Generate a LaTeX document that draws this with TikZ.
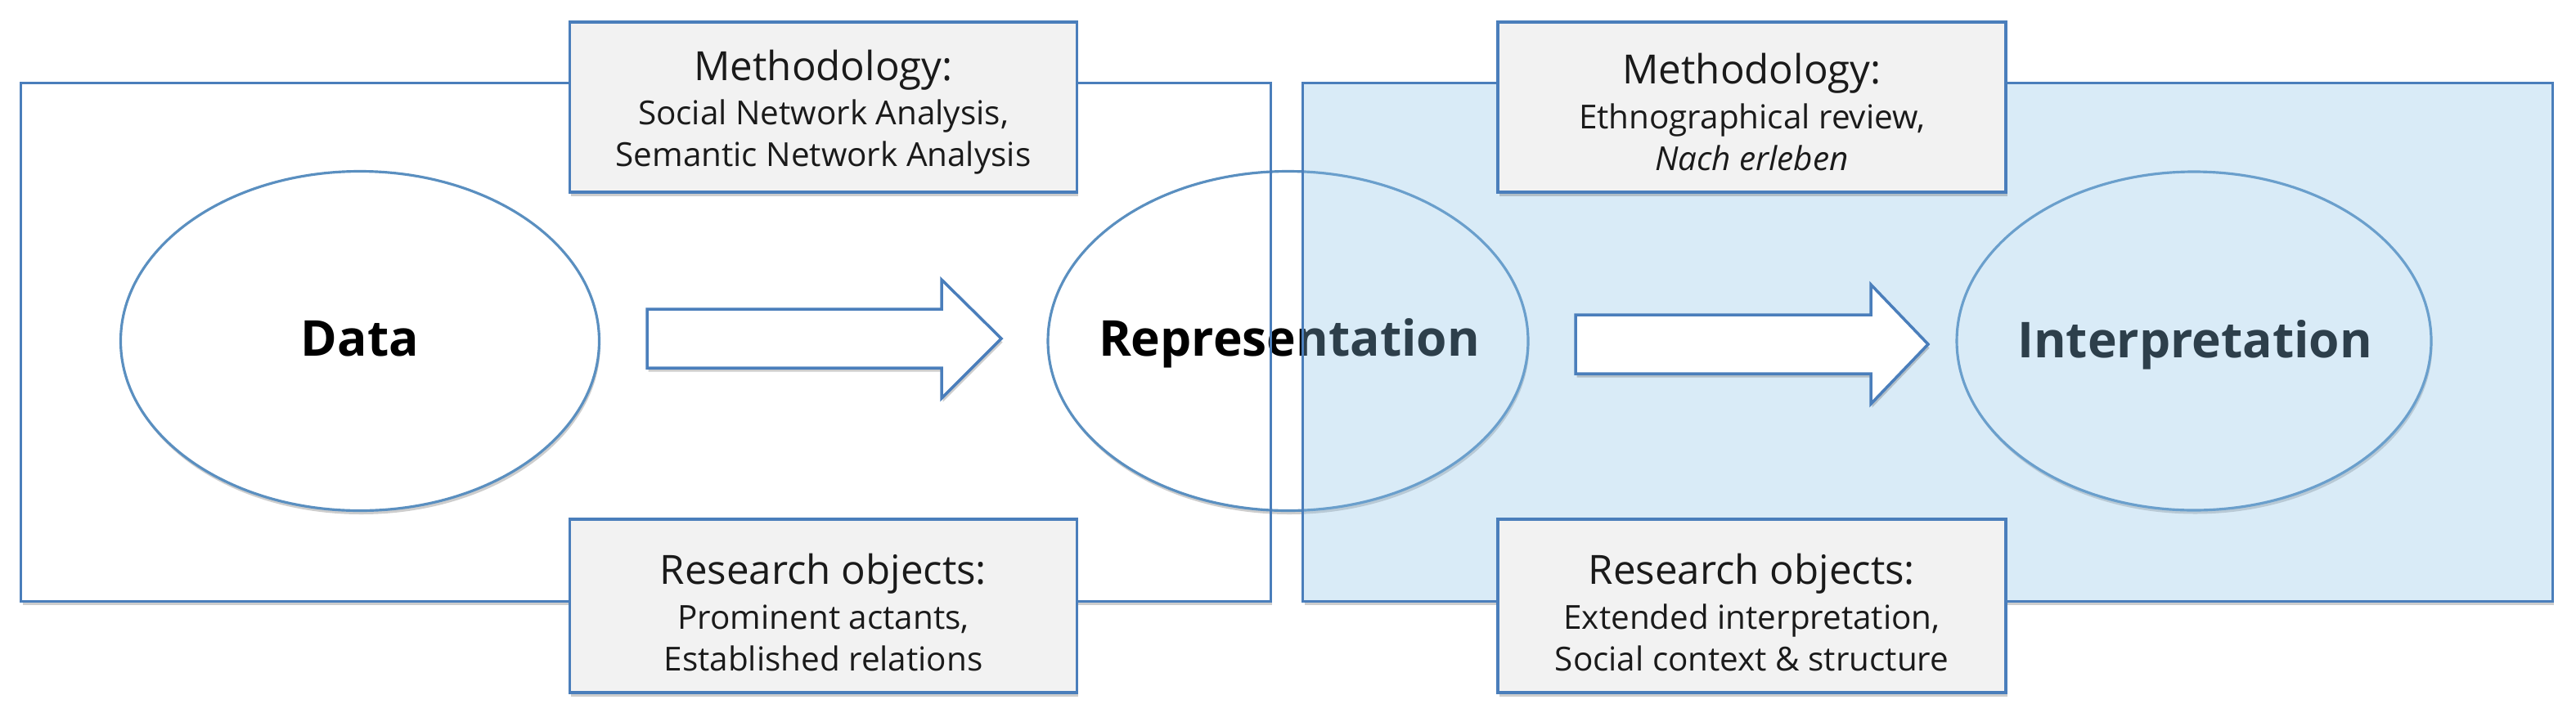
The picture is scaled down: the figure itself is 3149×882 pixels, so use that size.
\documentclass[tikz,border=0pt]{standalone}
\usepackage{fontspec}
\setmainfont{Open Sans}
\usetikzlibrary{shapes.geometric,shadows}
\definecolor{boxline}{HTML}{4A7EBB}
\definecolor{ellline}{HTML}{5A8FC0}
\definecolor{labelfill}{HTML}{F2F2F2}
\definecolor{tint}{RGB}{141,194,231}
\definecolor{txt}{HTML}{1A1A1A}
\newcommand\hdrfont{\fontsize{14}{17}\selectfont}
\begin{document}
\begin{tikzpicture}[x=0.1mm,y=-0.1mm,
  softshadow/.style={drop shadow={shadow xshift=0.15mm,shadow yshift=-0.45mm,opacity=0.28,fill=black!70}},
  framebox/.style={rectangle,inner sep=0pt,minimum width=152.7mm,minimum height=63.3mm},
  stage/.style={ellipse,draw=ellline,line width=0.9pt,fill=white,inner sep=0pt,softshadow},
  stagetext/.style={font=\fontsize{17.2}{20}\selectfont\bfseries,text=black,anchor=base,inner sep=0pt},
  labelbox/.style={rectangle,draw=boxline,line width=1pt,fill=labelfill,inner sep=0pt,
    minimum width=62mm,softshadow},
  labeltext/.style={align=center,text=txt,inner sep=0pt,font=\fontsize{11.5}{14.5}\selectfont},
  blockarrow/.style={draw=boxline,line width=1pt,fill=white,line join=miter,softshadow}]
\useasboundingbox (0,0) rectangle (3149,882);
\fill[white] (0,0) rectangle (3149,882);

% frame backgrounds with shadows
\node[framebox,fill=white,softshadow] (lb) at (789.5,418.5) {};
\node[framebox,fill=white,softshadow] (rb) at (2356.5,418.5) {};

% stages
\node[stage,minimum width=58.5mm,minimum height=41.5mm] (data) at (440,417) {};
\node[stage,minimum width=58.7mm,minimum height=41.5mm] (repr) at (1574.5,417) {};
\node[stage,minimum width=58mm,minimum height=41.4mm] (interp) at (2682,417) {};
\node[stagetext] (datat) at (440,435) {Data};
\node[stagetext] (reprt) at (1576,435) {Representation};
\node[stagetext] (interpt) at (2683,437) {Interpretation};

% left frame outline on top
\draw[boxline,line width=1pt] (lb.north west) rectangle (lb.south east);
% right frame translucent tint
\fill[tint,fill opacity=0.325] (rb.north west) rectangle (rb.south east);
\draw[boxline,line width=1pt] (rb.north west) rectangle (rb.south east);

% block arrows
\coordinate (a1) at (791,414);
\draw[blockarrow] (a1) ++(0,-36) -- ++(360,0) -- ++(0,-36) -- ++(73,72) -- ++(-73,73) -- ++(0,-37) -- ++(-360,0) -- cycle;
\coordinate (a2) at (1926,421);
\draw[blockarrow] (a2) ++(0,-36) -- ++(361,0) -- ++(0,-37) -- ++(70,73) -- ++(-70,73) -- ++(0,-37) -- ++(-361,0) -- cycle;

% label boxes
\node[labelbox,minimum height=20.8mm] (m1) at (1006.5,131) {};
\node[labeltext,yshift=-0.6mm] (m1t) at (m1.center)
  {{\hdrfont Methodology:}\\[1pt]Social Network Analysis,\\Semantic Network Analysis};
\node[labelbox,minimum height=21.2mm] (r1) at (1006.5,741) {};
\node[labeltext,yshift=-0.8mm] (r1t) at (r1.center)
  {{\hdrfont Research objects:}\\[1pt]Prominent actants,\\Established relations};
\node[labelbox,minimum width=62.1mm,minimum height=20.8mm] (m2) at (2141.5,131) {};
\node[labeltext,yshift=-0.6mm] (m2t) at (m2.center)
  {{\hdrfont Methodology:}\\[1pt]Ethnographical review,\\\textit{Nach erleben}};
\node[labelbox,minimum width=62.1mm,minimum height=21.2mm] (r2) at (2141.5,741) {};
\node[labeltext,yshift=-0.8mm] (r2t) at (r2.center)
  {{\hdrfont Research objects:}\\[1pt]Extended interpretation,\\Social context \& structure};
\end{tikzpicture}
\end{document}
